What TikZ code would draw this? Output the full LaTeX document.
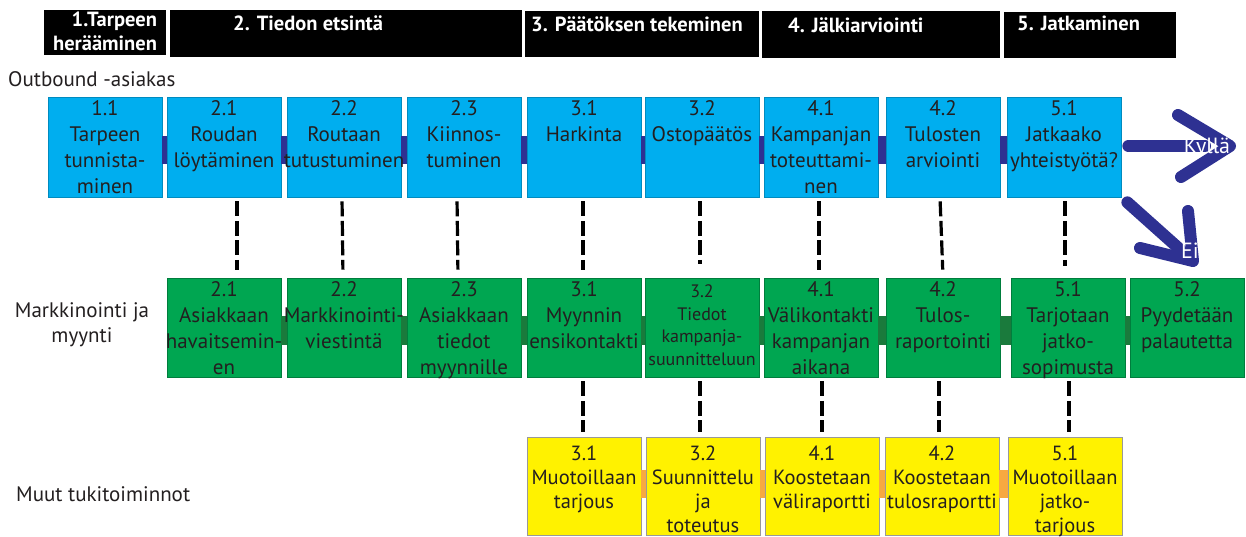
\documentclass[tikz,border=0pt]{standalone}
\usepackage{fontspec}
\setmainfont{PT Sans}
\definecolor{cyanbox}{HTML}{00AEEF}
\definecolor{greenbox}{HTML}{00A651}
\definecolor{yellowbox}{HTML}{FFF200}
\definecolor{navy}{HTML}{2E3192}
\definecolor{dkgreen}{HTML}{1A7A3C}
\definecolor{orangec}{HTML}{F7A941}
\definecolor{txtc}{HTML}{231F20}
\pgfdeclarelayer{background}
\pgfdeclarelayer{connlayer}
\pgfsetlayers{background,connlayer,main}
\newcommand\mkbox[5]{\begin{pgfonlayer}{connlayer}\node[#1] (#2) at (#3) {};\end{pgfonlayer}\node[#4] (#2t) at (#2.north) {#5};}
\begin{document}
\begin{tikzpicture}[x=1pt,y=-1pt,
  hbar/.style={fill=black, inner sep=0},
  htext/.style={text=white, font=\fontsize{20.5}{24}\selectfont\bfseries, inner sep=0},
  lane/.style={font=\fontsize{21}{25}\selectfont, align=center, inner sep=0, text=txtc},
  box/.style={minimum width=114pt, minimum height=100pt, inner sep=0, line width=0.7pt},
  bbox/.style={box, fill=cyanbox, draw=cyanbox!80!black},
  gbox/.style={box, fill=greenbox, draw=greenbox!75!black, minimum height=99pt},
  ybox/.style={box, fill=yellowbox, draw=black!40, minimum height=98pt},
  btxt/.style={anchor=north, align=center, inner sep=0, text=txtc, font=\fontsize{21}{26}\selectfont, yshift=-4pt},
  stxt/.style={btxt, font=\fontsize{18}{22.5}\selectfont, yshift=-3pt},
  ytxt/.style={btxt, font=\fontsize{20.5}{24}\selectfont, yshift=-5pt},
  bconn/.style={navy, line width=28pt},
  gconn/.style={dkgreen, line width=29pt},
  oconn/.style={orangec, line width=28pt},
  vdash/.style={black, line width=3.2pt, dash pattern=on 15pt off 4.5pt},
  bigarrow/.style={navy, line width=12pt, line cap=round, line join=round},
  arrtxt/.style={text=white, font=\fontsize{22}{24}\selectfont, inner sep=0}
]
\begin{pgfonlayer}{background}
\useasboundingbox[fill=white] (0,0) rectangle (1246,536);
\end{pgfonlayer}

% header bars
\node[hbar, minimum width=122pt, minimum height=45pt] (h1) at (105,32.5) {};
\node[hbar, minimum width=352pt, minimum height=47pt] (h2) at (346,33.5) {};
\node[hbar, minimum width=234pt, minimum height=46pt] (h3) at (642,34) {};
\node[hbar, minimum width=238pt, minimum height=47pt] (h4) at (881,34.5) {};
\node[hbar, minimum width=172pt, minimum height=46pt] (h5) at (1090,35) {};
\node[htext, align=right, anchor=north east] (h1t) at ([xshift=-9pt,yshift=-2pt]h1.north east) {1.Tarpeen\\herääminen};
\node[htext, anchor=base west] (h2t) at (233,30) {2. Tiedon etsintä};
\node[htext, anchor=base west] (h3t) at (531,31) {3. Päätöksen tekeminen};
\node[htext, anchor=base west] (h4t) at (788,32) {4. Jälkiarviointi};
\node[htext, anchor=base west] (h5t) at (1017,30) {5. Jatkaminen};

% lane labels
\node[lane, anchor=west] (l1) at (8,79) {Outbound -asiakas};
\node[lane] (l2) at (82,325) {Markkinointi ja\\myynti};
\node[lane, anchor=west] (l3) at (16,494) {Muut tukitoiminnot};

% blue row
\mkbox{bbox}{b11}{105,147}{btxt}{1.1\\Tarpeen\\tunnista-\\minen}
\mkbox{bbox}{b21}{224,147}{btxt}{2.1\\Roudan\\löytäminen}
\mkbox{bbox}{b22}{344,147}{btxt}{2.2\\Routaan\\tutustuminen}
\mkbox{bbox}{b23}{464,147}{btxt}{2.3\\Kiinnos-\\tuminen}
\mkbox{bbox}{b31}{584,147}{btxt}{3.1\\Harkinta}
\mkbox{bbox}{b32}{702,147}{btxt}{3.2\\Ostopäätös}
\mkbox{bbox}{b41}{821,147}{btxt}{4.1\\Kampanjan\\toteuttami-\\nen}
\mkbox{bbox}{b42}{943,147}{btxt}{4.2\\Tulosten\\arviointi}
\mkbox{bbox}{b51}{1064,147}{btxt}{5.1\\Jatkaako\\yhteistyötä?}

% green row
\mkbox{gbox}{g21}{224,327.5}{btxt}{2.1\\Asiakkaan\\havaitsemin-\\en}
\mkbox{gbox}{g22}{344,327.5}{btxt}{2.2\\Markkinointi-\\viestintä}
\mkbox{gbox}{g23}{464,327.5}{btxt}{2.3\\Asiakkaan\\tiedot\\myynnille}
\mkbox{gbox}{g31}{584,327.5}{btxt}{3.1\\Myynnin\\ensikontakti}
\mkbox{gbox}{g32}{702,327.5}{stxt}{3.2\\Tiedot\\kampanja-\\suunnitteluun}
\mkbox{gbox}{g41}{821,327.5}{btxt}{4.1\\Välikontakti\\kampanjan\\aikana}
\mkbox{gbox}{g42}{943,327.5}{btxt}{4.2\\Tulos-\\raportointi}
\mkbox{gbox}{g51}{1068,327.5}{btxt}{5.1\\Tarjotaan\\jatko-\\sopimusta}
\mkbox{gbox}{g52}{1187,327.5}{btxt}{5.2\\Pyydetään\\palautetta}

% yellow row
\mkbox{ybox}{y31}{584,486}{ytxt}{3.1\\Muotoillaan\\tarjous}
\mkbox{ybox}{y32}{703,486}{ytxt}{3.2\\Suunnittelu\\ja\\toteutus}
\mkbox{ybox}{y41}{822,486}{ytxt}{4.1\\Koostetaan\\väliraportti}
\mkbox{ybox}{y42}{942,486}{ytxt}{4.2\\Koostetaan\\tulosraportti}
\mkbox{ybox}{y51}{1065,486}{ytxt}{5.1\\Muotoillaan\\jatko-\\tarjous}

% horizontal connectors (behind the texts)
\begin{pgfonlayer}{connlayer}
\foreach \a/\b in {b11/b21,b21/b22,b22/b23,b23/b31,b31/b32,b32/b41,b41/b42,b42/b51}
  \draw[bconn] ([yshift=-3pt]\a.east) -- ([yshift=-3pt]\b.west);
\foreach \a/\b in {g21/g22,g22/g23,g23/g31,g31/g32,g32/g41,g41/g42,g42/g51,g51/g52}
  \draw[gconn] ([yshift=-3pt]\a.east) -- ([yshift=-3pt]\b.west);
\foreach \a/\b in {y31/y32,y32/y41,y41/y42,y42/y51}
  \draw[oconn] ([yshift=2pt]\a.east) -- ([yshift=2pt]\b.west);
\end{pgfonlayer}

% vertical dashed connectors
\draw[vdash, shorten <=4pt, shorten >=8pt] ([xshift=13pt]b21.south) -- ([xshift=13pt]g21.north);
\draw[vdash, shorten <=4pt, shorten >=8pt] ([xshift=-2pt]b22.south) -- ([xshift=-1pt]g22.north);
\draw[vdash, shorten <=4pt, shorten >=8pt] ([xshift=-7pt]b23.south) -- ([xshift=-6pt]g23.north);
\draw[vdash, shorten <=4pt, shorten >=8pt] ([xshift=-1pt]b31.south) -- ([xshift=-1pt]g31.north);
\draw[vdash, shorten <=4pt, shorten >=14pt] ([xshift=-2pt]b32.south) -- ([xshift=-2pt]g32.north);
\draw[vdash, shorten <=4pt, shorten >=8pt] ([xshift=-2pt]b41.south) -- ([xshift=-2pt]g41.north);
\draw[vdash, shorten <=4pt, shorten >=8pt] ([xshift=-3pt]b42.south) -- ([xshift=0pt]g42.north);
\draw[vdash, shorten <=4pt, shorten >=12pt] ([xshift=1pt]b51.south) -- ([xshift=-3pt]g51.north);

\draw[vdash, shorten <=4pt, shorten >=5pt] ([xshift=-1pt]g31.south) -- ([xshift=-1pt]y31.north);
\draw[vdash, shorten <=4pt, shorten >=5pt] ([xshift=-2pt]g32.south) -- ([xshift=-3pt]y32.north);
\draw[vdash, shorten <=4pt, shorten >=5pt] ([xshift=1pt]g41.south) -- ([xshift=0pt]y41.north);
\draw[vdash, shorten <=4pt, shorten >=5pt] ([xshift=-4pt]g42.south) -- ([xshift=-3pt]y42.north);
\draw[vdash, shorten <=4pt, shorten >=5pt] ([xshift=1pt]g51.south) -- ([xshift=4pt]y51.north);

% decision arrows
\coordinate (kyT) at (1230,146);
\coordinate (kyA) at (1178,115);
\coordinate (kyB) at (1181,177);
\coordinate (kyE) at (1205,146);
\draw[bigarrow] ([xshift=7pt,yshift=1pt]b51.east) -- (kyE);
\draw[bigarrow] (kyA) -- (kyT) -- (kyB);
\node[arrtxt] (kyt) at (1207,148) {Kyllä};

\coordinate (eiT) at (1193,261);
\coordinate (eiA) at (1140,248);
\coordinate (eiB) at (1188,211);
\coordinate (eiE) at (1184,253);
\draw[bigarrow] ([xshift=6pt,yshift=-5pt]b51.south east) -- (eiE);
\draw[bigarrow] (eiA) -- (eiT) -- (eiB);
\node[arrtxt] (eit) at (1190,251) {Ei};
\end{tikzpicture}
\end{document}
